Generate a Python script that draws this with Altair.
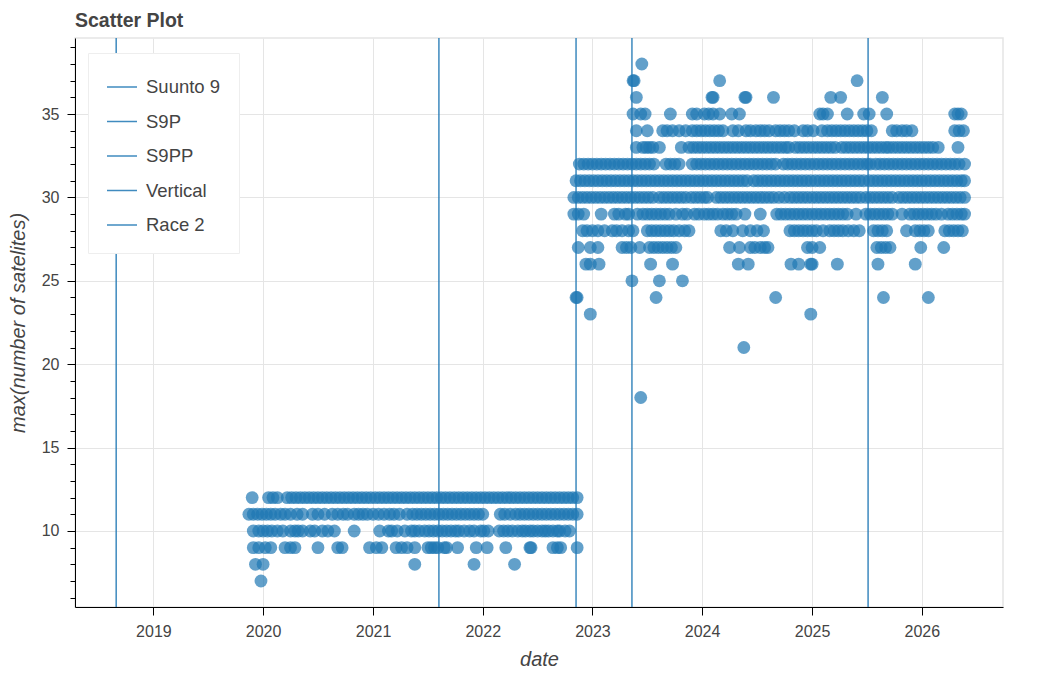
import altair as alt
import pandas as pd

# decimal-year dates of activities, grouped by max satellite count
sats_7 = [2019.98]
sats_8 = [2019.93, 2020.00, 2021.38, 2021.92, 2022.29]
sats_9 = [2019.91, 2019.96, 2020.02, 2020.07, 2020.20, 2020.25, 2020.29, 2020.50, 2020.68,
          2020.72, 2020.97, 2021.03, 2021.08, 2021.21, 2021.26, 2021.31, 2021.38, 2021.50,
          2021.53, 2021.56, 2021.59, 2021.65, 2021.67, 2021.77, 2021.94, 2022.04, 2022.21,
          2022.43, 2022.44, 2022.64, 2022.68, 2022.71, 2022.86]
sats_10 = [2019.91, 2019.96, 2020.00, 2020.04, 2020.08, 2020.13, 2020.18, 2020.25, 2020.29,
           2020.32, 2020.36, 2020.43, 2020.47, 2020.54, 2020.59, 2020.65, 2020.83, 2021.06,
           2021.14, 2021.17, 2021.22, 2021.29, 2021.35, 2021.38, 2021.42, 2021.47, 2021.51,
           2021.55, 2021.59, 2021.63, 2021.67, 2021.71, 2021.75, 2021.78, 2021.83, 2021.88,
           2021.92, 2021.98, 2022.01, 2022.05, 2022.15, 2022.19, 2022.23, 2022.27, 2022.32,
           2022.36, 2022.39, 2022.43, 2022.46, 2022.50, 2022.54, 2022.57, 2022.60, 2022.64,
           2022.68, 2022.70, 2022.75, 2022.79]
sats_11 = [2019.87, 2019.91, 2019.95, 2019.99, 2020.03, 2020.07, 2020.11, 2020.16, 2020.20,
           2020.25, 2020.31, 2020.36, 2020.45, 2020.50, 2020.56, 2020.63, 2020.68, 2020.73,
           2020.77, 2020.83, 2020.87, 2020.91, 2020.95, 2021.00, 2021.05, 2021.10, 2021.15,
           2021.19, 2021.24, 2021.31, 2021.36, 2021.40, 2021.44, 2021.48, 2021.52, 2021.56,
           2021.60, 2021.64, 2021.68, 2021.72, 2021.76, 2021.80, 2021.84, 2021.88, 2021.92,
           2021.96, 2022.00, 2022.16, 2022.20, 2022.25, 2022.30, 2022.34, 2022.38, 2022.42,
           2022.46, 2022.50, 2022.54, 2022.58, 2022.62, 2022.66, 2022.70, 2022.74, 2022.78,
           2022.82, 2022.86]
sats_12 = [2019.90, 2020.05, 2020.09, 2020.13, 2020.22, 2020.26, 2020.30, 2020.34, 2020.38,
           2020.42, 2020.46, 2020.50, 2020.54, 2020.58, 2020.62, 2020.66, 2020.70, 2020.74,
           2020.78, 2020.82, 2020.86, 2020.90, 2020.94, 2020.98, 2021.02, 2021.06, 2021.10,
           2021.14, 2021.18, 2021.22, 2021.26, 2021.30, 2021.34, 2021.38, 2021.42, 2021.46,
           2021.50, 2021.54, 2021.58, 2021.62, 2021.66, 2021.70, 2021.74, 2021.78, 2021.82,
           2021.86, 2021.90, 2021.94, 2021.98, 2022.02, 2022.06, 2022.10, 2022.14, 2022.18,
           2022.22, 2022.26, 2022.30, 2022.34, 2022.38, 2022.42, 2022.46, 2022.50, 2022.54,
           2022.58, 2022.62, 2022.66, 2022.70, 2022.74, 2022.78, 2022.82, 2022.86]
sats_18 = [2023.44]
sats_21 = [2024.38]
sats_23 = [2022.98, 2024.99]
sats_24 = [2022.85, 2022.86, 2023.58, 2024.67, 2025.65, 2026.06]
sats_25 = [2023.36, 2023.61, 2023.82]
sats_26 = [2022.94, 2022.98, 2023.06, 2023.53, 2023.73, 2024.33, 2024.42, 2024.81, 2024.88,
           2024.99, 2025.00, 2025.23, 2025.60, 2025.94]
sats_27 = [2022.87, 2022.98, 2023.05, 2023.27, 2023.31, 2023.35, 2023.43, 2023.52, 2023.56,
           2023.60, 2023.64, 2023.68, 2023.72, 2023.76, 2024.25, 2024.34, 2024.44, 2024.48,
           2024.53, 2024.57, 2024.60, 2024.96, 2025.00, 2025.07, 2025.59, 2025.63, 2025.67,
           2025.71, 2025.99, 2026.20]
sats_28 = [2022.91, 2022.95, 2023.00, 2023.05, 2023.11, 2023.18, 2023.22, 2023.27, 2023.33,
           2023.37, 2023.50, 2023.54, 2023.58, 2023.62, 2023.66, 2023.70, 2023.74, 2023.79,
           2023.84, 2023.88, 2024.17, 2024.22, 2024.28, 2024.37, 2024.44, 2024.50, 2024.56,
           2024.80, 2024.84, 2024.88, 2024.92, 2024.96, 2025.00, 2025.04, 2025.10, 2025.16,
           2025.20, 2025.24, 2025.28, 2025.33, 2025.38, 2025.43, 2025.56, 2025.60, 2025.64,
           2025.68, 2025.86, 2025.94, 2025.98, 2026.02, 2026.06, 2026.21, 2026.25, 2026.29,
           2026.33, 2026.37]
sats_29 = [2022.83, 2022.87, 2022.92, 2023.08, 2023.20, 2023.24, 2023.30, 2023.33, 2023.41,
           2023.46, 2023.50, 2023.54, 2023.58, 2023.62, 2023.66, 2023.70, 2023.76, 2023.82,
           2023.86, 2023.93, 2023.97, 2024.02, 2024.06, 2024.10, 2024.14, 2024.19, 2024.23,
           2024.27, 2024.31, 2024.39, 2024.53, 2024.68, 2024.72, 2024.76, 2024.80, 2024.84,
           2024.88, 2024.92, 2024.96, 2025.00, 2025.04, 2025.08, 2025.12, 2025.16, 2025.20,
           2025.24, 2025.28, 2025.32, 2025.40, 2025.49, 2025.53, 2025.57, 2025.61, 2025.65,
           2025.69, 2025.73, 2025.82, 2025.89, 2025.93, 2025.97, 2026.01, 2026.05, 2026.09,
           2026.13, 2026.18, 2026.24, 2026.28, 2026.32, 2026.36, 2026.39]
sats_30 = [2022.83, 2022.87, 2022.91, 2022.95, 2022.99, 2023.03, 2023.07, 2023.11, 2023.15,
           2023.19, 2023.23, 2023.27, 2023.31, 2023.35, 2023.39, 2023.43, 2023.47, 2023.51,
           2023.55, 2023.61, 2023.65, 2023.69, 2023.73, 2023.77, 2023.81, 2023.85, 2023.90,
           2023.94, 2023.98, 2024.02, 2024.05, 2024.13, 2024.17, 2024.21, 2024.25, 2024.29,
           2024.33, 2024.37, 2024.41, 2024.45, 2024.49, 2024.53, 2024.57, 2024.61, 2024.65,
           2024.70, 2024.75, 2024.80, 2024.84, 2024.88, 2024.92, 2024.96, 2025.00, 2025.04,
           2025.08, 2025.12, 2025.16, 2025.20, 2025.24, 2025.28, 2025.32, 2025.36, 2025.40,
           2025.44, 2025.49, 2025.53, 2025.57, 2025.61, 2025.65, 2025.69, 2025.73, 2025.79,
           2025.83, 2025.87, 2025.91, 2025.95, 2025.99, 2026.03, 2026.07, 2026.11, 2026.15,
           2026.19, 2026.23, 2026.27, 2026.31, 2026.35, 2026.39]
sats_31 = [2022.85, 2022.89, 2022.93, 2022.97, 2023.01, 2023.05, 2023.09, 2023.13, 2023.17,
           2023.21, 2023.25, 2023.29, 2023.33, 2023.37, 2023.41, 2023.45, 2023.49, 2023.53,
           2023.57, 2023.61, 2023.65, 2023.69, 2023.73, 2023.77, 2023.81, 2023.85, 2023.89,
           2023.93, 2023.97, 2024.01, 2024.05, 2024.09, 2024.13, 2024.17, 2024.21, 2024.25,
           2024.29, 2024.33, 2024.37, 2024.41, 2024.47, 2024.51, 2024.55, 2024.59, 2024.63,
           2024.67, 2024.71, 2024.75, 2024.79, 2024.83, 2024.87, 2024.91, 2024.95, 2024.99,
           2025.03, 2025.07, 2025.11, 2025.15, 2025.19, 2025.23, 2025.27, 2025.31, 2025.35,
           2025.39, 2025.43, 2025.47, 2025.52, 2025.56, 2025.60, 2025.64, 2025.68, 2025.72,
           2025.76, 2025.80, 2025.84, 2025.88, 2025.92, 2025.96, 2026.00, 2026.04, 2026.08,
           2026.12, 2026.16, 2026.20, 2026.24, 2026.28, 2026.32, 2026.36, 2026.39]
sats_32 = [2022.88, 2022.92, 2022.96, 2023.00, 2023.04, 2023.08, 2023.12, 2023.16, 2023.20,
           2023.24, 2023.28, 2023.32, 2023.36, 2023.40, 2023.44, 2023.48, 2023.52, 2023.56,
           2023.67, 2023.71, 2023.75, 2023.79, 2023.91, 2023.95, 2023.99, 2024.03, 2024.07,
           2024.11, 2024.15, 2024.19, 2024.23, 2024.27, 2024.31, 2024.35, 2024.39, 2024.43,
           2024.47, 2024.51, 2024.55, 2024.59, 2024.63, 2024.67, 2024.74, 2024.78, 2024.82,
           2024.86, 2024.90, 2024.94, 2024.98, 2025.02, 2025.06, 2025.10, 2025.14, 2025.18,
           2025.22, 2025.26, 2025.30, 2025.34, 2025.38, 2025.42, 2025.46, 2025.50, 2025.53,
           2025.58, 2025.62, 2025.66, 2025.70, 2025.74, 2025.78, 2025.82, 2025.86, 2025.90,
           2025.94, 2025.98, 2026.02, 2026.06, 2026.10, 2026.14, 2026.18, 2026.22, 2026.26,
           2026.30, 2026.34, 2026.39]
sats_33 = [2023.40, 2023.46, 2023.49, 2023.52, 2023.55, 2023.61, 2023.81, 2023.88, 2023.92,
           2023.96, 2024.00, 2024.04, 2024.08, 2024.12, 2024.16, 2024.20, 2024.24, 2024.28,
           2024.32, 2024.36, 2024.40, 2024.44, 2024.48, 2024.52, 2024.56, 2024.60, 2024.64,
           2024.68, 2024.72, 2024.76, 2024.79, 2024.85, 2024.89, 2024.93, 2024.97, 2025.01,
           2025.05, 2025.09, 2025.13, 2025.17, 2025.21, 2025.27, 2025.31, 2025.35, 2025.39,
           2025.43, 2025.47, 2025.51, 2025.55, 2025.59, 2025.63, 2025.67, 2025.70, 2025.74,
           2025.78, 2025.82, 2025.86, 2025.90, 2025.94, 2025.98, 2026.02, 2026.06, 2026.10,
           2026.15, 2026.33]
sats_34 = [2023.40, 2023.50, 2023.64, 2023.68, 2023.73, 2023.79, 2023.85, 2023.91, 2023.95,
           2023.99, 2024.03, 2024.07, 2024.11, 2024.15, 2024.19, 2024.28, 2024.33, 2024.40,
           2024.44, 2024.49, 2024.53, 2024.57, 2024.61, 2024.67, 2024.71, 2024.75, 2024.79,
           2024.84, 2024.92, 2024.96, 2025.01, 2025.09, 2025.14, 2025.18, 2025.22, 2025.26,
           2025.30, 2025.34, 2025.38, 2025.42, 2025.46, 2025.50, 2025.54, 2025.73, 2025.77,
           2025.82, 2025.86, 2025.91, 2026.30, 2026.34, 2026.38]
sats_35 = [2023.37, 2023.44, 2023.48, 2023.71, 2023.91, 2023.95, 2024.02, 2024.06, 2024.10,
           2024.16, 2024.27, 2024.34, 2025.07, 2025.10, 2025.14, 2025.32, 2025.47, 2025.52,
           2025.68, 2026.30, 2026.33, 2026.36]
sats_36 = [2023.40, 2024.09, 2024.10, 2024.39, 2024.40, 2024.65, 2025.17, 2025.26, 2025.64]
sats_37 = [2023.37, 2023.38, 2024.16, 2025.41]
sats_38 = [2023.45]

sat_rows = [
    (7, sats_7), (8, sats_8), (9, sats_9), (10, sats_10), (11, sats_11), (12, sats_12),
    (18, sats_18), (21, sats_21), (23, sats_23), (24, sats_24), (25, sats_25),
    (26, sats_26), (27, sats_27), (28, sats_28), (29, sats_29), (30, sats_30),
    (31, sats_31), (32, sats_32), (33, sats_33), (34, sats_34), (35, sats_35),
    (36, sats_36), (37, sats_37), (38, sats_38),
]

watches = ["Suunto 9", "S9P", "S9PP", "Vertical", "Race 2"]
watch_dates = [2018.66, 2021.60, 2022.85, 2023.36, 2025.51]

year_ticks = list(range(2019, 2027))
y_ticks = list(range(6, 40))


def to_date(y):
    year = int(y)
    return pd.Timestamp(year=year, month=1, day=1) + pd.Timedelta(days=(y - year) * 365.25)


points = pd.DataFrame(
    [{"date": to_date(d), "sats": v} for v, dates in sat_rows for d in dates]
)
lines = pd.DataFrame({"date": [to_date(d) for d in watch_dates], "watch": watches})

BLUE = "#1f77b4"
TEXT = "#444444"
FONT = "Liberation Sans"

x_scale = alt.Scale(domain=[to_date(2018.285).isoformat(), to_date(2026.74).isoformat()])
y_scale = alt.Scale(domain=[5.44, 39.56], nice=False, zero=False)

x_axis = alt.Axis(
    title="date",
    values=[alt.DateTime(year=y, month=1, date=1) for y in year_ticks],
    format="%Y",
    tickSize=8,
    labelPadding=8,
    titlePadding=10,
)
y_axis = alt.Axis(
    title="max(number of satelites)",
    values=y_ticks,
    labelExpr="datum.value % 5 === 0 ? datum.label : ''",
    tickSize={"condition": {"test": "datum.value % 5 === 0", "value": 8}, "value": 5},
    gridOpacity={"condition": {"test": "datum.value % 5 === 0", "value": 1}, "value": 0},
    labelPadding=8,
    titlePadding=13,
)

scatter = (
    alt.Chart(points)
    .mark_circle(size=165, color=BLUE, opacity=0.7)
    .encode(
        x=alt.X("date:T", scale=x_scale, axis=x_axis),
        y=alt.Y("sats:Q", scale=y_scale, axis=y_axis),
    )
)

rules = (
    alt.Chart(lines)
    .mark_rule(strokeWidth=1.3)
    .encode(
        x=alt.X("date:T", scale=x_scale),
        color=alt.Color(
            "watch:N",
            scale=alt.Scale(domain=watches, range=[BLUE] * len(watches)),
            legend=alt.Legend(
                title=None,
                orient="none",
                legendX=13,
                legendY=15,
                symbolType="stroke",
                symbolSize=900,
                symbolStrokeWidth=1.5,
                symbolOpacity=0.85,
                labelFontSize=18.5,
                labelFont=FONT,
                labelColor=TEXT,
                labelOffset=8,
                rowPadding=8.5,
                padding=18,
                fillColor="white",
                strokeColor="#eeeeee",
            ),
        ),
    )
)

chart = (
    alt.layer(scatter, rules)
    .properties(
        width=928,
        height=569,
        autosize=alt.AutoSizeParams(type="none"),
        padding={"left": 67, "top": 30, "right": 30, "bottom": 66},
        title=alt.Title("Scatter Plot", anchor="start", frame="group", fontSize=19.5,
                        fontWeight="bold", color=TEXT, font=FONT, offset=6),
    )
    .configure_view(stroke="#e5e5e5", strokeWidth=1.5)
    .configure_axis(
        grid=True,
        gridColor="#e5e5e5",
        domainColor="black",
        tickColor="black",
        labelFont=FONT,
        labelFontSize=16,
        labelColor=TEXT,
        titleFont=FONT,
        titleFontSize=20,
        titleFontStyle="italic",
        titleFontWeight="normal",
        titleColor=TEXT,
    )
)

chart.save("out.html", embed_options={"renderer": "svg", "actions": False})
